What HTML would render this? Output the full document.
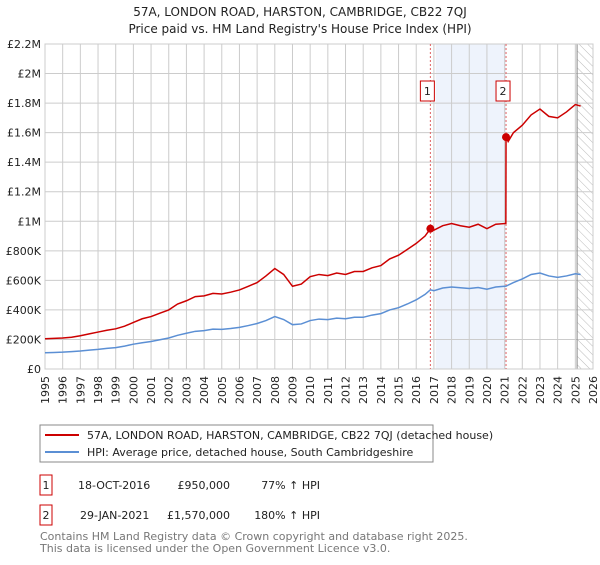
<!DOCTYPE html>
<html><head><meta charset="utf-8"><style>
body{margin:0;background:#fff;font-family:"Liberation Sans","DejaVu Sans",sans-serif;}
</style></head><body>
<svg width="600" height="560" xmlns="http://www.w3.org/2000/svg" font-family="DejaVu Sans, Liberation Sans, sans-serif">
<defs><pattern id="hatch" width="6" height="6" patternUnits="userSpaceOnUse" patternTransform="rotate(-45)"><line x1="0" y1="0" x2="0" y2="6" stroke="#bbb" stroke-width="1"/></pattern></defs>
<text x="300" y="16" text-anchor="middle" font-size="12" fill="#222">57A, LONDON ROAD, HARSTON, CAMBRIDGE, CB22 7QJ</text>
<text x="300" y="33" text-anchor="middle" font-size="12" fill="#222">Price paid vs. HM Land Registry's House Price Index (HPI)</text>
<g id="plot"></g>
<g>
<rect x="40" y="425" width="393" height="37" fill="#fff" stroke="#888"/>
<line x1="45" y1="435" x2="79" y2="435" stroke="#cc0000" stroke-width="2"/>
<text x="87" y="439" font-size="11" fill="#222">57A, LONDON ROAD, HARSTON, CAMBRIDGE, CB22 7QJ (detached house)</text>
<line x1="45" y1="452" x2="79" y2="452" stroke="#5b8fd4" stroke-width="2"/>
<text x="87" y="456" font-size="11" fill="#222">HPI: Average price, detached house, South Cambridgeshire</text>
</g>
<g font-size="11" fill="#222">
<rect x="40" y="475" width="12" height="20" fill="#fff" stroke="#cc0000"/><text x="46" y="489" text-anchor="middle">1</text>
<text x="78" y="489">18-OCT-2016</text><text x="230" y="489" text-anchor="end">£950,000</text><text x="320" y="489" text-anchor="end">77% ↑ HPI</text>
<rect x="40" y="505" width="12" height="20" fill="#fff" stroke="#cc0000"/><text x="46" y="519" text-anchor="middle">2</text>
<text x="80" y="519">29-JAN-2021</text><text x="230" y="519" text-anchor="end">£1,570,000</text><text x="320" y="519" text-anchor="end">180% ↑ HPI</text>
</g>
<text x="40" y="540" font-size="11" fill="#777">Contains HM Land Registry data © Crown copyright and database right 2025.</text>
<text x="40" y="552" font-size="11" fill="#777">This data is licensed under the Open Government Licence v3.0.</text>
</svg>
<script>
const hpiYears=[1995,1995.5,1996,1996.5,1997,1997.5,1998,1998.5,1999,1999.5,2000,2000.5,2001,2001.5,2002,2002.5,2003,2003.5,2004,2004.5,2005,2005.5,2006,2006.5,2007,2007.5,2008,2008.5,2009,2009.5,2010,2010.5,2011,2011.5,2012,2012.5,2013,2013.5,2014,2014.5,2015,2015.5,2016,2016.5,2016.8,2017,2017.5,2018,2018.5,2019,2019.5,2020,2020.5,2021.08,2021.5,2022,2022.5,2023,2023.5,2024,2024.5,2025,2025.3];
const hpiValues=[110,112,114,118,122,128,133,140,145,155,168,178,186,198,210,228,242,255,260,270,268,274,282,294,308,328,355,335,300,305,328,338,334,344,340,350,350,365,375,400,415,440,468,505,536,530,548,555,550,545,552,540,555,561,585,610,640,650,630,620,630,645,640];
const redYears=[1995,1995.5,1996,1996.5,1997,1997.5,1998,1998.5,1999,1999.5,2000,2000.5,2001,2001.5,2002,2002.5,2003,2003.5,2004,2004.5,2005,2005.5,2006,2006.5,2007,2007.5,2008,2008.5,2009,2009.5,2010,2010.5,2011,2011.5,2012,2012.5,2013,2013.5,2014,2014.5,2015,2015.5,2016,2016.5,2016.8,2017,2017.5,2018,2018.5,2019,2019.5,2020,2020.5,2021.07,2021.08,2021.2,2021.5,2022,2022.5,2023,2023.5,2024,2024.5,2025,2025.3];
const redValues=[205,207,210,215,225,238,250,262,272,290,315,340,355,378,400,440,462,490,495,512,508,520,535,560,585,630,680,640,560,575,625,640,632,650,640,660,660,685,700,745,770,810,850,900,950,940,970,985,970,960,980,950,980,985,1570,1540,1600,1650,1720,1760,1710,1700,1740,1790,1780];
const saleYears=[2016.8,2021.08];
const saleValues=[950,1570];
const yTicks=[0,200,400,600,800,1000,1200,1400,1600,1800,2000,2200];
const yTickLabels=["£0","£200K","£400K","£600K","£800K","£1M","£1.2M","£1.4M","£1.6M","£1.8M","£2M","£2.2M"];
const xTicks=[1995,1996,1997,1998,1999,2000,2001,2002,2003,2004,2005,2006,2007,2008,2009,2010,2011,2012,2013,2014,2015,2016,2017,2018,2019,2020,2021,2022,2023,2024,2025,2026];
const X0=45,X1=593,Y0=369,Y1=44;
const x=y=>X0+(y-1995)/(2026-1995)*(X1-X0);
const yv=v=>Y0-v/2200*(Y0-Y1);
const NS="http://www.w3.org/2000/svg";
const g=document.getElementById('plot');
function mk(t,a,p){const e=document.createElementNS(NS,t);for(const k in a)e.setAttribute(k,a[k]);(p||g).appendChild(e);return e;}
let e;
e=mk('rect',{x:x(2017.1),y:Y1,width:x(2021.08)-x(2017.1),height:Y0-Y1,fill:'#eef3fc'});


e=mk('rect',{x:x(2025.1),y:Y1,width:X1-x(2025.1),height:Y0-Y1,fill:'url(#hatch)'});


yTicks.forEach((t,i)=>{
 mk('line',{x1:X0,x2:X1,y1:yv(t),y2:yv(t),stroke:'#ccc'});
 e=mk('text',{x:X0-4,y:yv(t)+4,'text-anchor':'end','font-size':11,fill:'#222'});e.textContent=yTickLabels[i];
 
 
});
xTicks.forEach(t=>{
 mk('line',{x1:x(t),x2:x(t),y1:Y1,y2:Y0,stroke:'#ccc'});
 e=mk('text',{x:0,y:0,'text-anchor':'end','font-size':11,fill:'#222',transform:'translate('+(x(t)+4)+','+(Y0+7)+') rotate(-90)'});e.textContent=t;
 
 
});
mk('line',{x1:x(2025.1),x2:x(2025.1),y1:Y1,y2:Y0,stroke:'#888'});
mk('rect',{x:X0,y:Y1,width:X1-X0,height:Y0-Y1,fill:'none',stroke:'#ccc'});
saleYears.forEach((s,i)=>{
 mk('line',{x1:x(s),x2:x(s),y1:Y1,y2:Y0,stroke:'#e06060','stroke-dasharray':'2,2'});
 e=mk('rect',{x:x(s)-10,y:81,width:14,height:20,fill:'#fff',stroke:'#cc0000'});
 
 
 e=mk('text',{x:x(s)-3,y:95,'text-anchor':'middle','font-size':11,fill:'#222'});e.textContent=i+1;
});
e=mk('polyline',{points:hpiYears.map((t,i)=>x(t)+','+yv(hpiValues[i])).join(' '),fill:'none',stroke:'#5b8fd4','stroke-width':1.5});


e=mk('polyline',{points:redYears.map((t,i)=>x(t)+','+yv(redValues[i])).join(' '),fill:'none',stroke:'#cc0000','stroke-width':1.5});


saleYears.forEach((s,i)=>{
 e=mk('circle',{cx:x(s),cy:yv(saleValues[i]),r:4,fill:'#cc0000'});
 
 
});
</script>
</body></html>
